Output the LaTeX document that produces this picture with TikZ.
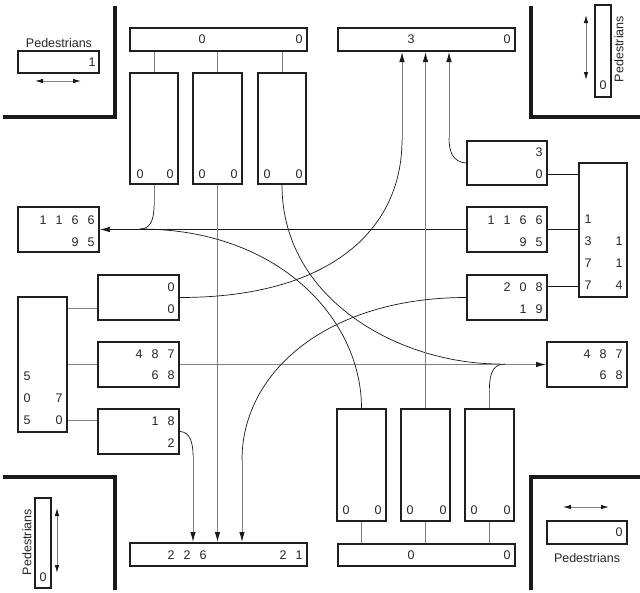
\documentclass[tikz,border=0pt]{standalone}
\usepackage{fontspec}
\setmainfont{Liberation Sans}
\usetikzlibrary{arrows.meta,calc}
\newcommand\mybox[5]{\node[box, minimum width=#4pt, minimum height=#5pt] (#1) at (#2,#3) {};}
\newcommand\mytxt[4]{\node[txt] (#1) at (#2,#3) {#4};}
\begin{document}
\begin{tikzpicture}[x=1pt,y=-1pt,
  box/.style={draw=black!88, line width=2pt, rectangle, inner sep=0pt},
  txt/.style={inner sep=0pt, font=\fontsize{12.5}{14}\selectfont, text=black!85},
  conn/.style={draw=black!50, line width=0.9pt},
  curv/.style={draw=black!90, line width=0.7pt},
  corner/.style={draw=black!90, line width=3.5pt},
  arr/.style={-{Latex[length=10pt,width=5.5pt,color=black!90]}},
  ped/.style={draw=black!50, line width=0.9pt, {Latex[length=8pt,width=4.5pt,color=black!90]}-{Latex[length=8pt,width=4.5pt,color=black!90]}}
]
\useasboundingbox (0,0) rectangle (640,592);
\fill[white] (0,0) rectangle (640,592);

% corners
\draw[corner] (115,6) -- (115,117) -- (3,117);
\draw[corner] (531,6) -- (531,117) -- (640,117);
\draw[corner] (3,477) -- (115,477) -- (115,590);
\draw[corner] (640,477) -- (531,477) -- (531,590);

% boxes
\mybox{pedTL}{58.5}{62}{81}{22}
\mybox{topL}{218.5}{39.5}{177}{23}
\mybox{vL1}{154}{128.5}{48}{111}
\mybox{vL2}{217.5}{128.5}{49}{111}
\mybox{vL3}{282}{128.5}{48}{111}
\mybox{topR}{426.5}{39.5}{177}{23}
\mybox{pedTR}{603}{51}{16}{92}
\mybox{rThirty}{507}{163}{80}{44}
\mybox{rBig}{603}{230}{48}{134}
\mybox{rA}{507}{229.5}{80}{45}
\mybox{rB}{507}{297.5}{80}{45}
\mybox{rC}{587}{364.5}{80}{45}
\mybox{lA}{58.5}{229.5}{81}{45}
\mybox{lB}{138.5}{297.5}{81}{45}
\mybox{lC}{138.5}{364.5}{81}{45}
\mybox{lD}{138.5}{431.5}{81}{45}
\mybox{lBig}{42.5}{364.5}{49}{135}
\mybox{bR1}{361.5}{465}{49}{112}
\mybox{bR2}{425.5}{465}{49}{112}
\mybox{bR3}{489.5}{465}{49}{112}
\mybox{bRbox}{426.5}{555}{177}{22}
\mybox{pedBR}{587}{532.5}{80}{23}
\mybox{bL}{218.5}{554.5}{177}{23}
\mybox{pedBL}{43}{543}{16}{90}

% texts
\mytxt{pTLlab}{59}{43}{Pedestrians}
\mytxt{pTLv}{92}{62}{1}
\mytxt{tLa}{202}{39}{0}
\mytxt{tLb}{299}{39}{0}
\mytxt{v1a}{140}{174}{0}
\mytxt{v1b}{170}{174}{0}
\mytxt{v2a}{202}{174}{0}
\mytxt{v2b}{234}{174}{0}
\mytxt{v3a}{267}{174}{0}
\mytxt{v3b}{299}{174}{0}
\mytxt{tRa}{411}{39}{3}
\mytxt{tRb}{507}{39}{0}
\mytxt{pTRv}{603}{85}{0}
\node[txt, rotate=90] (pTRlab) at (619,49) {Pedestrians};
\mytxt{r30a}{539}{152}{3}
\mytxt{r30b}{539}{174}{0}
\mytxt{rA1}{491}{220}{1}
\mytxt{rA2}{507}{220}{1}
\mytxt{rA3}{523}{220}{6}
\mytxt{rA4}{539}{220}{6}
\mytxt{rA5}{523}{242}{9}
\mytxt{rA6}{539}{242}{5}
\mytxt{rB1}{507}{287}{2}
\mytxt{rB2}{523}{287}{0}
\mytxt{rB3}{539}{287}{8}
\mytxt{rB4}{523}{309}{1}
\mytxt{rB5}{539}{309}{9}
\mytxt{rG1}{588}{219}{1}
\mytxt{rG2}{588}{241}{3}
\mytxt{rG3}{619}{241}{1}
\mytxt{rG4}{588}{263}{7}
\mytxt{rG5}{619}{263}{1}
\mytxt{rG6}{588}{285}{7}
\mytxt{rG7}{619}{285}{4}
\mytxt{rC1}{587}{354}{4}
\mytxt{rC2}{603}{354}{8}
\mytxt{rC3}{619}{354}{7}
\mytxt{rC4}{603}{375}{6}
\mytxt{rC5}{619}{375}{8}
\mytxt{lA1}{43}{220}{1}
\mytxt{lA2}{59}{220}{1}
\mytxt{lA3}{75}{220}{6}
\mytxt{lA4}{91}{220}{6}
\mytxt{lA5}{75}{242}{9}
\mytxt{lA6}{91}{242}{5}
\mytxt{lB1}{171}{287}{0}
\mytxt{lB2}{171}{309}{0}
\mytxt{lC1}{139}{354}{4}
\mytxt{lC2}{155}{354}{8}
\mytxt{lC3}{171}{354}{7}
\mytxt{lC4}{155}{375}{6}
\mytxt{lC5}{171}{375}{8}
\mytxt{lD1}{155}{421}{1}
\mytxt{lD2}{171}{421}{8}
\mytxt{lD3}{171}{443}{2}
\mytxt{lG1}{27}{376}{5}
\mytxt{lG2}{27}{398}{0}
\mytxt{lG3}{59}{398}{7}
\mytxt{lG4}{27}{420}{5}
\mytxt{lG5}{59}{420}{0}
\mytxt{b1a}{346}{510}{0}
\mytxt{b1b}{378}{510}{0}
\mytxt{b2a}{410}{510}{0}
\mytxt{b2b}{443}{510}{0}
\mytxt{b3a}{474}{510}{0}
\mytxt{b3b}{507}{510}{0}
\mytxt{bRa}{411}{555}{0}
\mytxt{bRb}{507}{555}{0}
\mytxt{pBRv}{619}{532}{0}
\mytxt{pBRlab}{587}{558}{Pedestrians}
\mytxt{bL1}{171}{555}{2}
\mytxt{bL2}{187}{555}{2}
\mytxt{bL3}{203}{555}{6}
\mytxt{bL4}{283}{555}{2}
\mytxt{bL5}{299}{555}{1}
\mytxt{pBLv}{43}{577}{0}
\node[txt, rotate=90] (pBLlab) at (27,542) {Pedestrians};

% pedestrian arrows
\draw[ped] (35,81) -- (81,81);
\draw[ped] (586,15) -- (586,80);
\draw[ped] (57,508) -- (57,573);
\draw[ped] (563,507) -- (609,507);

% feeders
\draw[conn] (topL.south -| vL1.north) -- (vL1.north);
\draw[conn] (topL.south -| vL2.north) -- (vL2.north);
\draw[conn] (topL.south -| vL3.north) -- (vL3.north);
\draw[conn] (bR1.south) -- (bR1.south |- bRbox.north);
\draw[conn] (bR2.south) -- (bR2.south |- bRbox.north);
\draw[conn] (bR3.south) -- (bR3.south |- bRbox.north);
\draw[conn] (lBig.east |- 0,308) -- (lB.west |- 0,308);
\draw[conn] (lBig.east |- lC.west) -- (lC.west);
\draw[conn] (lBig.east |- 0,420) -- (lD.west |- 0,420);
\draw[curv] (rBig.west |- 0,174) -- (rThirty.east |- 0,174);
\draw[curv] (rBig.west |- rA.east) -- (rA.east);
\draw[curv] (rBig.west |- 0,286) -- (rB.east |- 0,286);

% movements
\coordinate (jL) at (140,229);
\coordinate (jR) at (500,364);
\draw[conn] (vL1.south) -- ++(0,21) coordinate (e1);
\draw[curv] (e1) .. controls (154,222) and (149,229) .. (jL);
\draw[curv, arr] (rA.west) -- (lA.east);
\draw[conn, arr] (vL2.south) -- (vL2.south |- bL.north);
\draw[curv] (vL3.south) .. controls (282,300) and (400,364) .. (jR);
\draw[conn, arr] (lC.east) -- (rC.west);
\draw[curv] (bR1.north) .. controls (361.5,320) and (280,229) .. (jL);
\draw[conn, arr] (bR2.north) -- (bR2.north |- topR.south);
\draw[conn] (bR3.north) -- ++(0,-20) coordinate (e2);
\draw[curv] (e2) .. controls (489.5,372) and (494,364) .. (505,364);
\coordinate (a1) at (402,140);
\draw[curv] (lB.east) .. controls (330,297.5) and (402,230) .. (a1);
\draw[conn, arr] (a1) -- (a1 |- topR.south);
\coordinate (f1) at (449,138);
\draw[curv] (rThirty.west) .. controls (453,162) and (449,152) .. (f1);
\draw[conn, arr] (f1) -- (f1 |- topR.south);
\coordinate (b1) at (242,460);
\draw[curv] (rB.west) .. controls (330,297.5) and (242,370) .. (b1);
\draw[conn, arr] (b1) -- (b1 |- bL.north);
\coordinate (g1) at (193,455);
\draw[curv] (lD.east) .. controls (190,432) and (193,443) .. (g1);
\draw[conn, arr] (g1) -- (g1 |- bL.north);
\end{tikzpicture}
\end{document}
